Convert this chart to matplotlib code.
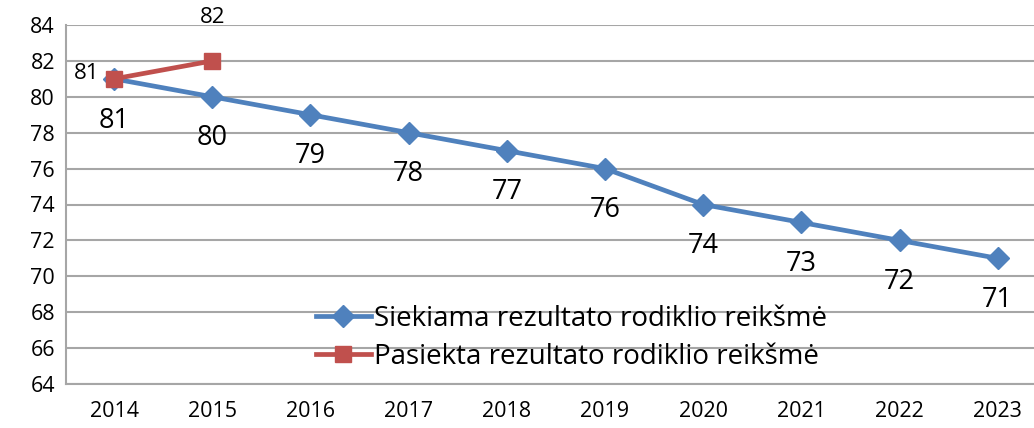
import matplotlib.pyplot as plt

years = ["2014", "2015", "2016", "2017", "2018", "2019", "2020", "2021", "2022", "2023"]
target = [81, 80, 79, 78, 77, 76, 74, 73, 72, 71]
achieved = [81, 82]

blue = "#4F81BD"
red = "#C0504D"
grid_col = "#A6A6A6"

plt.rcParams['font.family'] = ['Open Sans', 'DejaVu Sans']

fig = plt.figure(figsize=(10.34, 4.28), dpi=100)
ax = fig.add_axes([66 / 1034, 1 - 384 / 428, 1 - 66 / 1034, (384 - 25) / 428])

x = list(range(len(years)))
ax.plot(x, target, color=blue, linewidth=3.4, marker="D", markersize=11,
        label="Siekiama rezultato rodiklio reikšmė")
ax.plot(x[:len(achieved)], achieved, color=red, linewidth=3.4, marker="s", markersize=12,
        label="Pasiekta rezultato rodiklio reikšmė")

for xi, v in zip(x, target):
    ax.annotate(str(v), (xi, v), xytext=(0, -30), textcoords="offset points",
                ha="center", va="center", fontsize=19.5)
ax.annotate(str(achieved[0]), (0, achieved[0]), xytext=(-20, 4), textcoords="offset points",
            ha="center", va="center", fontsize=16)
ax.annotate(str(achieved[1]), (1, achieved[1]), xytext=(0, 31), textcoords="offset points",
            ha="center", va="center", fontsize=16)

ax.set_ylim(64, 84)
ax.set_yticks(range(64, 85, 2))
ax.set_xlim(-0.49, 9.37)
ax.set_xticks(x)
ax.set_xticklabels(years)
ax.tick_params(axis="both", length=0, labelsize=15.5)
ax.tick_params(axis="x", pad=12)
ax.tick_params(axis="y", pad=8)
ax.yaxis.grid(True, color=grid_col, linewidth=1.5)
ax.set_axisbelow(True)
for s in ["top", "right"]:
    ax.spines[s].set_visible(False)
for s in ["left", "bottom"]:
    ax.spines[s].set_color(grid_col)
    ax.spines[s].set_linewidth(1.5)

ax.legend(loc="lower left", bbox_to_anchor=(0.235, -0.025), frameon=False, fontsize=20,
          handlelength=2.0, handletextpad=0.1, labelspacing=0.35, borderpad=0.3)

fig.savefig("out.png", dpi=100)
